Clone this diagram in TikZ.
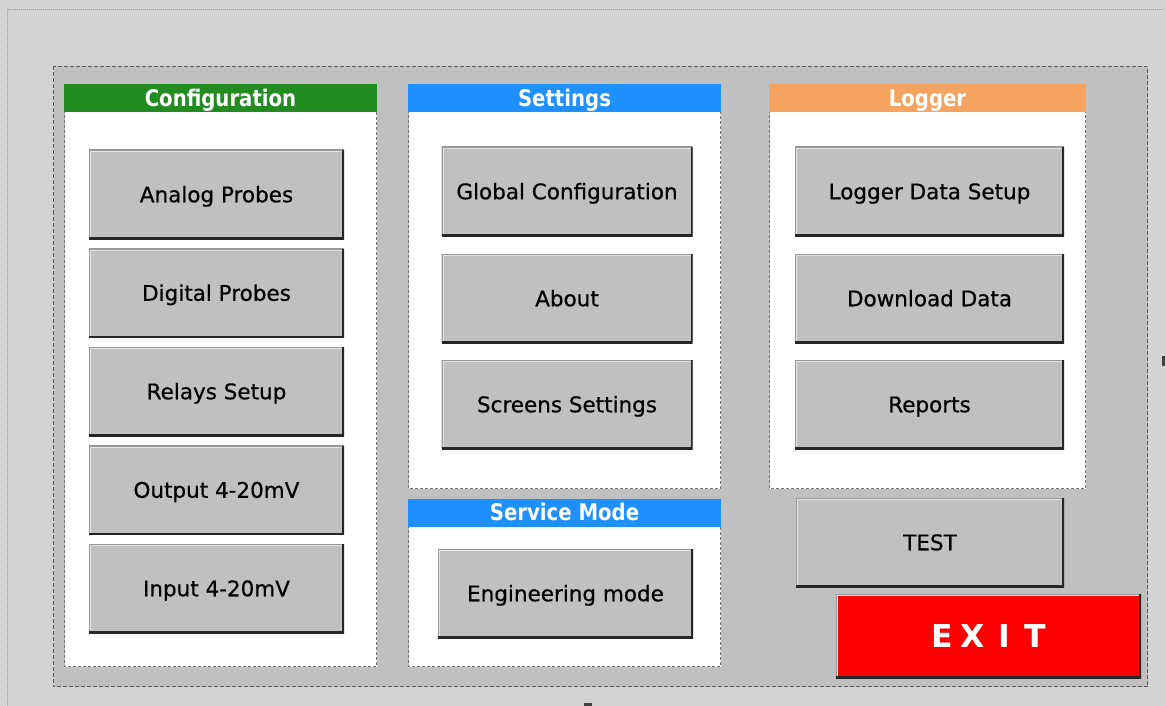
\documentclass[tikz,border=0pt]{standalone}
\usepackage{fontspec}
\setmainfont{DejaVu Sans}[FakeBold=0.6]
\newfontfamily\hdrfont[FakeStretch=0.86]{DejaVu Sans Bold}
\newfontfamily\exitfont{DejaVu Sans Bold}

\definecolor{pagebg}{HTML}{D3D3D3}
\definecolor{panelgray}{HTML}{C0C0C0}
\definecolor{panelline}{HTML}{5C5C5C}
\definecolor{grpline}{HTML}{767676}
\definecolor{dotline}{HTML}{9C9C9C}
\definecolor{cfggreen}{HTML}{228B22}
\definecolor{setblue}{HTML}{1E90FF}
\definecolor{logorange}{HTML}{F4A460}
\definecolor{exitred}{HTML}{FF0000}
\definecolor{bvgray}{HTML}{9A9A9A}
\definecolor{bvlight}{HTML}{E2E2E2}
\definecolor{bvdark}{HTML}{262626}
\definecolor{btntext}{HTML}{000000}

\tikzset{
  bevel/.style={path picture={
    \draw[line width=2pt,bvgray]
      (path picture bounding box.south west) -- (path picture bounding box.north west)
      -- (path picture bounding box.north east);
    \draw[line width=1pt,bvlight]
      ([shift={(1.5pt,2pt)}]path picture bounding box.south west)
      -- ([shift={(1.5pt,-1.5pt)}]path picture bounding box.north west)
      -- ([shift={(-2pt,-1.5pt)}]path picture bounding box.north east);
    \draw[line width=4pt,bvdark]
      (path picture bounding box.south west) -- (path picture bounding box.south east)
      -- (path picture bounding box.north east);
  }},
  btn/.style={bevel, rectangle, fill=panelgray, inner sep=0pt, outer sep=0pt,
    font=\fontsize{21.5pt}{21.5pt}\selectfont, text=btntext,
    text height=15.5pt, text depth=0pt},
  cfgbtn/.style={btn, minimum width=255pt, minimum height=89pt},
  setbtn/.style={btn, minimum width=251pt, minimum height=89pt},
  logbtn/.style={btn, minimum width=269pt, minimum height=89pt},
  hdr/.style={rectangle, inner sep=0pt, outer sep=0pt, minimum height=28pt,
    text=white, font=\hdrfont\fontsize{22.9pt}{22.9pt}\selectfont,
    text height=16.7pt, text depth=0pt},
  grpbox/.style={draw=grpline, line width=1pt, dash pattern=on 3pt off 2pt, fill=white},
  panelbox/.style={draw=panelline, line width=1pt, dash pattern=on 4pt off 2pt, fill=panelgray},
  outerdot/.style={draw=dotline, line width=1pt, dash pattern=on 1pt off 1pt},
  handle/.style={fill=black!75},
}

\begin{document}
\begin{tikzpicture}[x=1pt,y=-1pt]
\useasboundingbox (0,0) rectangle (1165,706);
\fill[pagebg] (0,0) rectangle (1165,706);

% window frame (dotted)
\draw[outerdot] (7.5,706) -- (7.5,9.5) -- (1165,9.5);

% main panel
\path[panelbox] (53.5,66.5) rectangle (1147.5,686.5);

% group boxes
\path[grpbox] (64.5,95) rectangle (376.5,666.5);
\path[grpbox] (408.5,95) rectangle (720.5,488.5);
\path[grpbox] (408.5,510) rectangle (720.5,666.5);
\path[grpbox] (769.5,95) rectangle (1085.5,488.5);

% group headers
\node[hdr, fill=cfggreen, minimum width=313pt] (cfghdr) at (220.5,98.5) {Configuration};
\node[hdr, fill=setblue, minimum width=313pt] (sethdr) at (564.5,98.5) {Settings};
\node[hdr, fill=setblue, minimum width=313pt] (svchdr) at (564.5,512.5) {Service Mode};
\node[hdr, fill=logorange, minimum width=317pt] (loghdr) at (927.5,98.5) {Logger};

% Configuration buttons
\node[cfgbtn] (analog)  at (216.5,194.5) {Analog Probes};
\node[cfgbtn] (digital) at (216.5,293)   {Digital Probes};
\node[cfgbtn] (relays)  at (216.5,391.5) {Relays Setup};
\node[cfgbtn] (output)  at (216.5,490)   {Output 4-20mV};
\node[cfgbtn] (input)   at (216.5,588.5) {Input 4-20mV};

% Settings buttons
\node[setbtn] (global)  at (567,191.5) {Global Configuration};
\node[setbtn] (about)   at (567,298.5) {About};
\node[setbtn] (screens) at (567,404.5) {Screens Settings};

% Service mode button
\node[setbtn, minimum width=255pt] (engmode) at (565.5,593.5) {Engineering mode};

% Logger buttons
\node[logbtn] (logsetup) at (929.5,191.5) {Logger Data Setup};
\node[logbtn] (download) at (929.5,298.5) {Download Data};
\node[logbtn] (reports)  at (929.5,404.5) {Reports};

% stand-alone buttons
\node[logbtn, minimum width=268pt] (test) at (930,542.5) {TEST};
\node[bevel, rectangle, fill=exitred, inner sep=0pt, outer sep=0pt,
      minimum width=305pt, minimum height=84pt, text=white,
      font=\exitfont\fontsize{31.5pt}{31.5pt}\selectfont,
      text height=23pt, text depth=0pt] (exit) at (988.5,636)
  {\makebox[31pt]{E}\makebox[31pt]{X}\makebox[31pt]{I}\makebox[31pt]{T}};

% selection handles at the frame edges
\fill[handle] (1162,356) rectangle (1165,366);
\fill[handle] (584,703) rectangle (592,706);
\end{tikzpicture}
\end{document}
